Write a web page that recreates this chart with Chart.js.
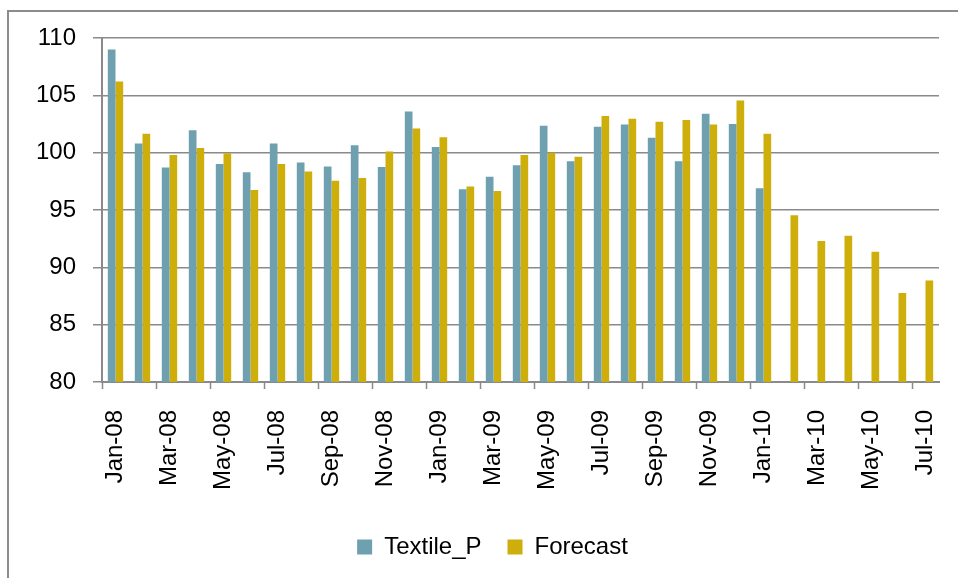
<!DOCTYPE html>
<html>
<head>
<meta charset="utf-8">
<title>Textile_P vs Forecast</title>
<script src="https://cdn.jsdelivr.net/npm/chart.js@4/dist/chart.umd.min.js"></script>
<style>
    html, body { margin: 0; padding: 0; background: #fff; overflow: hidden; }
    #wrap { position: relative; width: 958px; height: 578px; }
</style>
</head>
<body>
<div id="wrap"><canvas id="chart" width="958" height="578"></canvas></div>
<script>
// Months on the x axis
const months = ['Jan-08', 'Feb-08', 'Mar-08', 'Apr-08', 'May-08', 'Jun-08', 'Jul-08', 'Aug-08', 'Sep-08', 'Oct-08', 'Nov-08', 'Dec-08',
    'Jan-09', 'Feb-09', 'Mar-09', 'Apr-09', 'May-09', 'Jun-09', 'Jul-09', 'Aug-09', 'Sep-09', 'Oct-09', 'Nov-09', 'Dec-09',
    'Jan-10', 'Feb-10', 'Mar-10', 'Apr-10', 'May-10', 'Jun-10', 'Jul-10'];

// Actual values (stop at Jan-10)
const textileP = [109.0, 100.8, 98.7, 101.95, 99.0, 98.3, 100.8, 99.15, 98.8, 100.65, 98.75, 103.6,
    100.5, 96.8, 97.9, 98.9, 102.35, 99.25, 102.25, 102.45, 101.3, 99.25, 103.4, 102.5,
    96.9, null, null, null, null, null, null];

// Forecast values
const forecast = [106.2, 101.65, 99.8, 100.4, 99.95, 96.75, 99.0, 98.35, 97.55, 97.8, 100.1, 102.1,
    101.35, 97.05, 96.65, 99.8, 100.0, 99.65, 103.2, 102.95, 102.7, 102.85, 102.45, 104.55,
    101.65, 94.55, 92.3, 92.75, 91.35, 87.75, 88.85];

// Y axis range
const yMin = 80;
const yMax = 110;
const yStep = 5;

const gridGrey = '#8a8a8a';
const fontFamily = '"Liberation Sans", Arial, sans-serif';

// Grey frame around the whole chart (the picture is cropped on right and bottom)
const framePlugin = {
    id: 'frame',
    beforeDraw(chart) {
        const c = chart.ctx;
        c.save();
        c.fillStyle = '#fff';
        c.fillRect(0, 0, chart.width, chart.height);
        c.strokeStyle = '#8c8c8c';
        c.lineWidth = 2;
        c.strokeRect(8, 11, chart.width + 20, chart.height + 20);
        c.restore();
    },
    // legend sits a little right of the canvas centre in the original
    afterLayout(chart) {
        if (chart.legend) {
            chart.legend.left += 6;
            chart.legend.right += 6;
        }
    }
};

const ctx = document.getElementById('chart').getContext('2d');
new Chart(ctx, {
    type: 'bar',
    data: {
        labels: months,
        datasets: [
            { label: 'Textile_P', data: textileP, backgroundColor: '#6fa0b0' },
            { label: 'Forecast', data: forecast, backgroundColor: '#cdae0b' }
        ]
    },
    options: {
        responsive: false,
        animation: false,
        categoryPercentage: 0.57,
        barPercentage: 1.0,
        layout: { padding: { left: 34, right: 19, top: 38, bottom: 9 } },
        scales: {
            x: {
                offset: true,
                afterFit: (scale) => {
                    scale.height -= 2;
                    scale.paddingLeft = 0;
                    scale.paddingRight = 0;
                },
                grid: {
                    offset: true,
                    drawOnChartArea: false,
                    drawTicks: true,
                    tickLength: 7,
                    tickWidth: 1.5,
                    tickColor: (c) => (c.index % 2 === 0 ? gridGrey : 'rgba(0,0,0,0)')
                },
                border: { color: gridGrey, width: 2 },
                ticks: {
                    autoSkip: false,
                    minRotation: 90,
                    maxRotation: 90,
                    padding: 21,
                    color: '#000',
                    font: { family: fontFamily, size: 24 },
                    callback: function(value, index) {
                        return index % 2 === 0 ? this.getLabelForValue(value) : '';
                    }
                }
            },
            y: {
                min: yMin,
                max: yMax,
                afterFit: (scale) => {
                    scale.width = 68;
                    scale.paddingTop = 0;
                    scale.paddingBottom = 0;
                },
                grid: { color: gridGrey, lineWidth: 1.5, tickLength: 9 },
                border: { color: gridGrey, width: 2 },
                ticks: {
                    stepSize: yStep,
                    padding: 17,
                    color: '#000',
                    font: { family: fontFamily, size: 24 }
                }
            }
        },
        plugins: {
            legend: {
                position: 'bottom',
                labels: {
                    boxWidth: 15,
                    boxHeight: 15,
                    padding: 26,
                    color: '#000',
                    font: { family: fontFamily, size: 24 }
                }
            },
            tooltip: { enabled: false }
        }
    },
    plugins: [framePlugin]
});
</script>
</body>
</html>
